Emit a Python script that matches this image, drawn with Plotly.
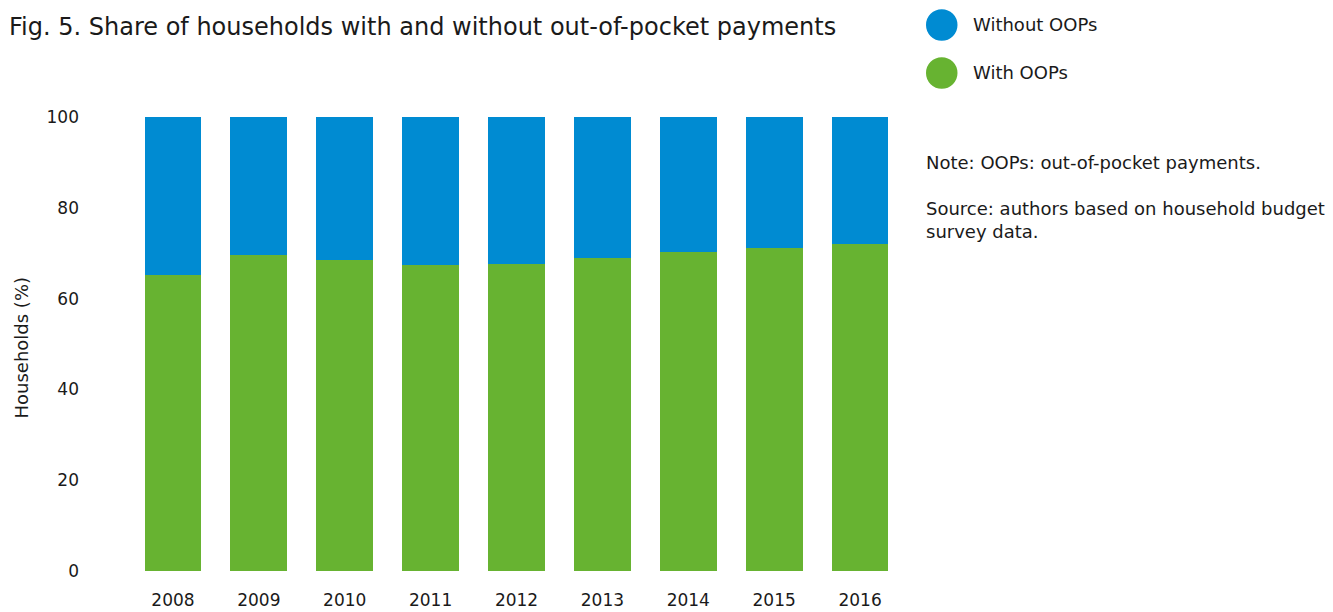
import plotly.graph_objects as go

years = ["2008", "2009", "2010", "2011", "2012", "2013", "2014", "2015", "2016"]
with_oops = [65.1, 69.5, 68.6, 67.3, 67.7, 69.0, 70.3, 71.2, 72.1]
without_oops = [round(100 - v, 1) for v in with_oops]
y_ticks = [0, 20, 40, 60, 80, 100]

BLUE = "#008BD2"
GREEN = "#67B331"
FONT = "DejaVu Sans"
TXT = "#1a1a1a"

# page has an 8px body margin, so figure coords = page coords - 8
W, H = 1325, 604
L, T, B, R = 122, 109, 41, 430

fig = go.Figure()
fig.add_trace(go.Bar(x=years, y=with_oops, name="With OOPs", marker=dict(color=GREEN, line=dict(width=0))))
fig.add_trace(go.Bar(x=years, y=without_oops, name="Without OOPs", marker=dict(color=BLUE, line=dict(width=0))))

fig.update_layout(
    barmode="stack",
    bargap=0.34,
    width=W, height=H,
    margin=dict(l=L, r=R, t=T, b=B, autoexpand=False),
    plot_bgcolor="white", paper_bgcolor="white",
    showlegend=False,
    font=dict(family=FONT, size=17, color=TXT),
    xaxis=dict(type="category", showgrid=False, showline=False, zeroline=False, automargin=False,
               ticks="", ticklabelstandoff=17, tickfont=dict(size=17)),
    yaxis=dict(range=[0, 100], tickvals=y_ticks, showgrid=False, showline=False, zeroline=False,
               automargin=False, ticks="", ticklabelstandoff=50, tickfont=dict(size=17)),
)

pw = W - L - R
ph = H - T - B

def px_x(x):  # page x -> paper
    return (x - 8 - L) / pw

def px_y(y):  # page y -> paper
    return (H - B - (y - 8)) / ph

fig.add_annotation(text="Households (%)", textangle=-90, xref="paper", yref="paper",
                   x=px_x(8), y=px_y(348), xanchor="left", yanchor="middle", showarrow=False,
                   font=dict(size=18, family=FONT, color=TXT))

fig.add_annotation(text="Fig. 5. Share of households with and without out-of-pocket payments",
                   xref="paper", yref="paper", x=px_x(7), y=px_y(27),
                   xanchor="left", yanchor="middle", showarrow=False,
                   font=dict(size=24, family=FONT, color=TXT))

for yc, color, label in [(25, BLUE, "Without OOPs"), (73, GREEN, "With OOPs")]:
    fig.add_shape(type="circle", xref="paper", yref="paper",
                  x0=px_x(926), x1=px_x(957.5), y0=px_y(yc + 15.8), y1=px_y(yc - 15.8),
                  fillcolor=color, line=dict(width=0))
    fig.add_annotation(text=label, xref="paper", yref="paper", x=px_x(971), y=px_y(yc - 1),
                       xanchor="left", yanchor="middle", showarrow=False,
                       font=dict(size=18, family=FONT, color=TXT))

fig.add_annotation(text="Note: OOPs: out-of-pocket payments.", xref="paper", yref="paper",
                   x=px_x(924), y=px_y(162), xanchor="left", yanchor="middle", showarrow=False,
                   font=dict(size=18, family=FONT, color=TXT))
fig.add_annotation(text="Source: authors based on household budget<br>survey data.", xref="paper", yref="paper",
                   x=px_x(924), y=px_y(196), xanchor="left", yanchor="top", showarrow=False, align="left",
                   font=dict(size=18, family=FONT, color=TXT))

fig.write_html("out.html")
